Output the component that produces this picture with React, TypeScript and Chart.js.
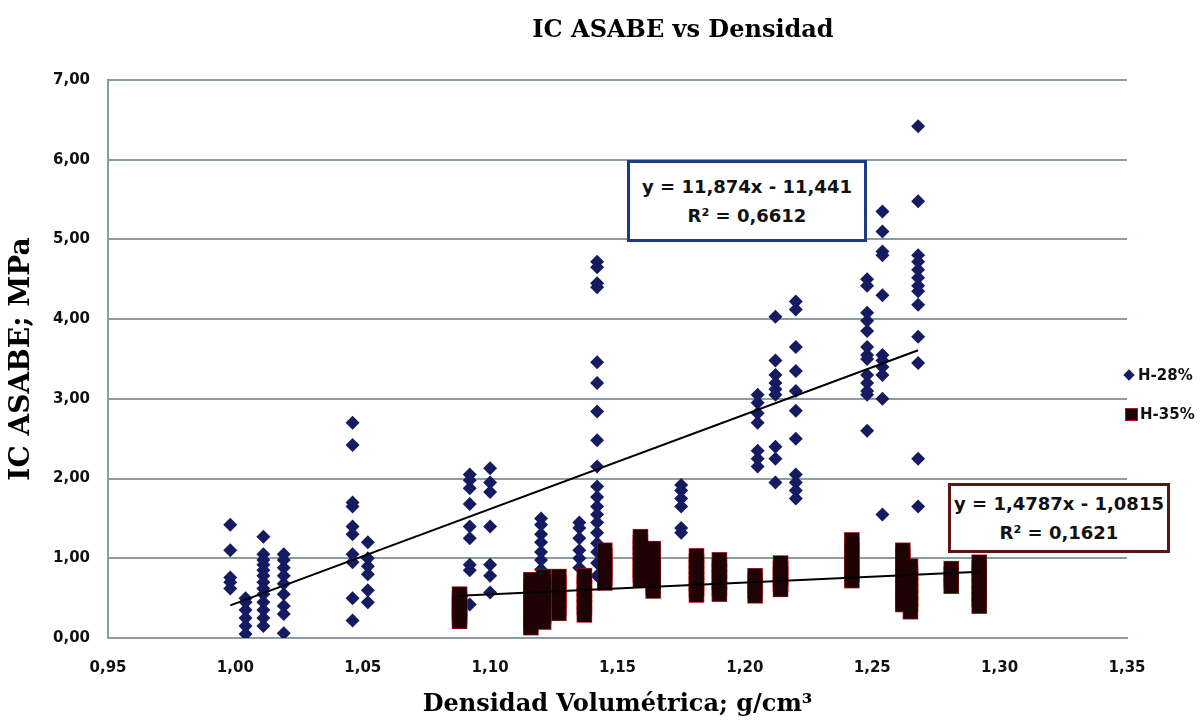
import React, { useEffect, useRef } from 'react';
import { Chart, registerables } from 'chart.js';

Chart.register(...registerables);

// ---- data ----
const xTickValues = [0.95, 1.0, 1.05, 1.1, 1.15, 1.2, 1.25, 1.3, 1.35];
const xTickLabels = ['0,95', '1,00', '1,05', '1,10', '1,15', '1,20', '1,25', '1,30', '1,35'];
const yTickValues = [0, 1, 2, 3, 4, 5, 6, 7];
const yTickLabels = ['0,00', '1,00', '2,00', '3,00', '4,00', '5,00', '6,00', '7,00'];

// H-28% : density of each column and the IC values measured in it
const h28Density = [0.998, 1.004, 1.011, 1.019, 1.046, 1.052, 1.092, 1.1, 1.12, 1.135, 1.142, 1.175, 1.205, 1.212, 1.22, 1.248, 1.254, 1.268];
const h28Ic = [
  [1.42, 1.1, 0.76, 0.7, 0.62],
  [0.5, 0.45, 0.35, 0.25, 0.15, 0.05],
  [1.27, 1.05, 0.98, 0.92, 0.85, 0.78, 0.7, 0.62, 0.55, 0.45, 0.35, 0.25, 0.15],
  [1.05, 0.98, 0.88, 0.78, 0.68, 0.55, 0.4, 0.3, 0.06],
  [2.7, 2.42, 1.7, 1.65, 1.4, 1.3, 1.05, 0.95, 0.5, 0.22],
  [1.2, 1.0, 0.9, 0.8, 0.6, 0.45],
  [2.05, 1.98, 1.88, 1.68, 1.4, 1.25, 0.92, 0.85, 0.42],
  [2.13, 1.95, 1.83, 1.4, 0.92, 0.78, 0.57],
  [1.5, 1.42, 1.3, 1.2, 1.08, 0.98, 0.86],
  [1.45, 1.38, 1.25, 1.1, 1.0, 0.88],
  [4.72, 4.65, 4.45, 4.4, 3.46, 3.2, 2.84, 2.48, 2.15, 1.9, 1.77, 1.65, 1.55, 1.45, 1.32, 1.19, 1.08, 0.94, 0.78],
  [1.92, 1.85, 1.75, 1.65, 1.38, 1.32],
  [3.05, 2.95, 2.82, 2.7, 2.35, 2.25, 2.15],
  [4.03, 3.48, 3.3, 3.2, 3.12, 3.05, 2.4, 2.25, 1.95],
  [4.22, 4.12, 3.65, 3.35, 3.1, 2.85, 2.5, 2.05, 1.95, 1.85, 1.75],
  [4.5, 4.42, 4.08, 3.98, 3.85, 3.65, 3.55, 3.5, 3.3, 3.2, 3.1, 3.05, 2.6],
  [5.35, 5.1, 4.85, 4.8, 4.3, 3.55, 3.48, 3.4, 3.3, 3.0, 1.55],
  [6.42, 5.48, 4.8, 4.72, 4.62, 4.52, 4.42, 4.35, 4.18, 3.78, 3.45, 2.25, 1.65],
];

// H-35%
const h35Density = [1.088, 1.116, 1.121, 1.127, 1.137, 1.145, 1.159, 1.164, 1.181, 1.19, 1.204, 1.214, 1.242, 1.262, 1.265, 1.281, 1.292];
const h35Ic = [
  [0.55, 0.49, 0.43, 0.37, 0.31, 0.26, 0.21],
  [0.73, 0.66, 0.59, 0.52, 0.45, 0.38, 0.31, 0.24, 0.18, 0.13],
  [0.77, 0.7, 0.63, 0.56, 0.49, 0.42, 0.35, 0.27, 0.2],
  [0.77, 0.7, 0.62, 0.54, 0.46, 0.38, 0.31],
  [0.78, 0.7, 0.62, 0.54, 0.46, 0.38, 0.29],
  [1.1, 1.03, 0.96, 0.89, 0.82, 0.75, 0.69],
  [1.27, 1.2, 1.13, 1.06, 0.99, 0.92, 0.85, 0.79, 0.73],
  [1.12, 1.05, 0.98, 0.91, 0.84, 0.77, 0.7, 0.64, 0.59],
  [1.03, 0.96, 0.89, 0.82, 0.75, 0.68, 0.61, 0.54],
  [0.98, 0.91, 0.84, 0.77, 0.7, 0.62, 0.55],
  [0.78, 0.72, 0.65, 0.59, 0.53],
  [0.94, 0.87, 0.8, 0.74, 0.67, 0.61],
  [1.23, 1.16, 1.09, 1.02, 0.95, 0.88, 0.8, 0.72],
  [1.1, 1.02, 0.94, 0.86, 0.78, 0.7, 0.62, 0.54, 0.46, 0.42],
  [0.9, 0.82, 0.74, 0.66, 0.58, 0.5, 0.42, 0.33],
  [0.87, 0.8, 0.72, 0.65],
  [0.95, 0.88, 0.8, 0.72, 0.64, 0.56, 0.48, 0.4],
];

// linear trend lines (end points)
const trend28X = [0.998, 1.268];
const trend28Y = [0.41, 3.61];
const trend35X = [1.088, 1.292];
const trend35Y = [0.53, 0.83];

const eq28 = ['y = 11,874x - 11,441', 'R² = 0,6612'];
const eq35 = ['y = 1,4787x - 1,0815', 'R² = 0,1621'];
const seriesNames = ['H-28%', 'H-35%'];

// ---- styles ----
const BLUE = '#151b60';
const RED_FILL = '#1e0204';
const RED_EDGE = '#b01818';
const GRID = '#8b9d9e';
const SANS = "'DejaVu Sans', sans-serif";
const SERIF = "'DejaVu Serif', serif";

const toPoints = (xs: number[], ys: number[][]) =>
  xs.flatMap((x, i) => ys[i].map((y) => ({ x, y })));
const toLine = (xs: number[], ys: number[]) => xs.map((x, i) => ({ x, y: ys[i] }));

export default function App() {
  const ref = useRef<HTMLCanvasElement>(null);

  useEffect(() => {
    if (!ref.current) return;
    const h28 = toPoints(h28Density, h28Ic);
    const h35 = toPoints(h35Density, h35Ic);
    const chart = new Chart(ref.current, {
      type: 'scatter',
      data: {
        datasets: [
          {
            type: 'line', label: 'trend28', data: toLine(trend28X, trend28Y), borderColor: '#000', borderWidth: 2,
            pointRadius: 0, showLine: true, fill: false, order: 0,
          } as any,
          {
            type: 'line', label: 'trend35', data: toLine(trend35X, trend35Y), borderColor: '#000', borderWidth: 2,
            pointRadius: 0, showLine: true, fill: false, order: 0,
          } as any,
          {
            label: seriesNames[1], data: h35, pointStyle: 'rect', pointRadius: 10,
            backgroundColor: RED_FILL, borderWidth: 0, order: 1,
          },
          {
            label: seriesNames[1] + ' edge', data: h35, pointStyle: 'rect', pointRadius: 11,
            backgroundColor: RED_EDGE, borderWidth: 0, order: 2,
          },
          {
            label: seriesNames[0], data: h28, pointStyle: 'rectRot', pointRadius: 7,
            backgroundColor: BLUE, borderWidth: 0, order: 3,
          },
        ],
      },
      options: {
        animation: false,
        responsive: false,
        devicePixelRatio: 1,
        layout: { padding: { top: 80, right: 76, left: 0, bottom: 0 } },
        plugins: {
          legend: { display: false },
          title: { display: false },
          tooltip: { enabled: false },
        },
        scales: {
          x: {
            type: 'linear',
            min: 0.95,
            max: 1.35,
            afterBuildTicks: (s: any) => { s.ticks = xTickValues.map((v) => ({ value: v })); },
            afterFit: (s: any) => { s.height = 83; },
            ticks: {
              autoSkip: false, maxRotation: 0, padding: 21, color: '#111',
              font: { family: SANS, weight: 'bold', size: 15 },
              callback: (_v: any, i: number) => xTickLabels[i],
            },
            grid: { display: false, drawTicks: false },
            border: { display: true, color: GRID, width: 2 },
            title: {
              display: true, text: 'Densidad Volumétrica; g/cm³', color: '#000',
              font: { family: SERIF, weight: 'bold', size: 24 }, padding: { top: 0, bottom: 2 },
            },
          },
          y: {
            type: 'linear',
            min: 0,
            max: 7,
            afterBuildTicks: (s: any) => { s.ticks = yTickValues.map((v) => ({ value: v })); },
            afterFit: (s: any) => { s.width = 108; },
            ticks: {
              padding: 18, color: '#111',
              font: { family: SANS, weight: 'bold', size: 15 },
              callback: (_v: any, i: number) => yTickLabels[i],
            },
            grid: { color: GRID, lineWidth: 2, drawTicks: false },
            border: { display: true, color: GRID, width: 2 },
            title: {
              display: true, text: 'IC ASABE; MPa', color: '#000',
              font: { family: SERIF, weight: 'bold', size: 28 }, padding: { top: 5, bottom: 0 },
            },
          },
        },
      },
    });
    return () => chart.destroy();
  }, []);

  const box = (left: number, top: number, w: number, h: number, color: string): React.CSSProperties => ({
    position: 'absolute', left, top, width: w, height: h, boxSizing: 'border-box',
    border: `3px solid ${color}`, background: '#fff', display: 'flex', flexDirection: 'column',
    justifyContent: 'center', alignItems: 'center', fontFamily: SANS, fontWeight: 'bold', fontSize: 18,
    lineHeight: '29px', color: '#111', whiteSpace: 'nowrap',
  });

  return (
    <div style={{ position: 'fixed', left: 0, top: 0, width: 1203, height: 721, background: '#fff' }}>
      <canvas ref={ref} width={1203} height={721} style={{ position: 'absolute', left: 0, top: 0 }} />
      <div style={{
        position: 'absolute', left: 483, width: 400, top: 13, textAlign: 'center',
        fontFamily: SERIF, fontWeight: 'bold', fontSize: 24, lineHeight: '32px', color: '#000',
      }}>IC ASABE vs Densidad</div>
      <div style={box(627, 160, 240, 82, '#1d3a85')}>
        <div>{eq28[0]}</div>
        <div>{eq28[1]}</div>
      </div>
      <div style={box(948, 483, 222, 70, '#5c1414')}>
        <div>{eq35[0]}</div>
        <div>{eq35[1]}</div>
      </div>
      <div style={{ position: 'absolute', left: 1125, top: 366, display: 'flex', alignItems: 'center', fontFamily: SANS, fontWeight: 'bold', fontSize: 15, color: '#111' }}>
        <span style={{ display: 'inline-block', width: 8, height: 8, background: BLUE, transform: 'rotate(45deg)', marginRight: 5 }} />
        <span>{seriesNames[0]}</span>
      </div>
      <div style={{ position: 'absolute', left: 1125, top: 405, display: 'flex', alignItems: 'center', fontFamily: SANS, fontWeight: 'bold', fontSize: 15, color: '#111' }}>
        <span style={{ display: 'inline-block', width: 13, height: 13, boxSizing: 'border-box', background: RED_FILL, border: `1px solid ${RED_EDGE}`, marginRight: 2 }} />
        <span>{seriesNames[1]}</span>
      </div>
    </div>
  );
}
